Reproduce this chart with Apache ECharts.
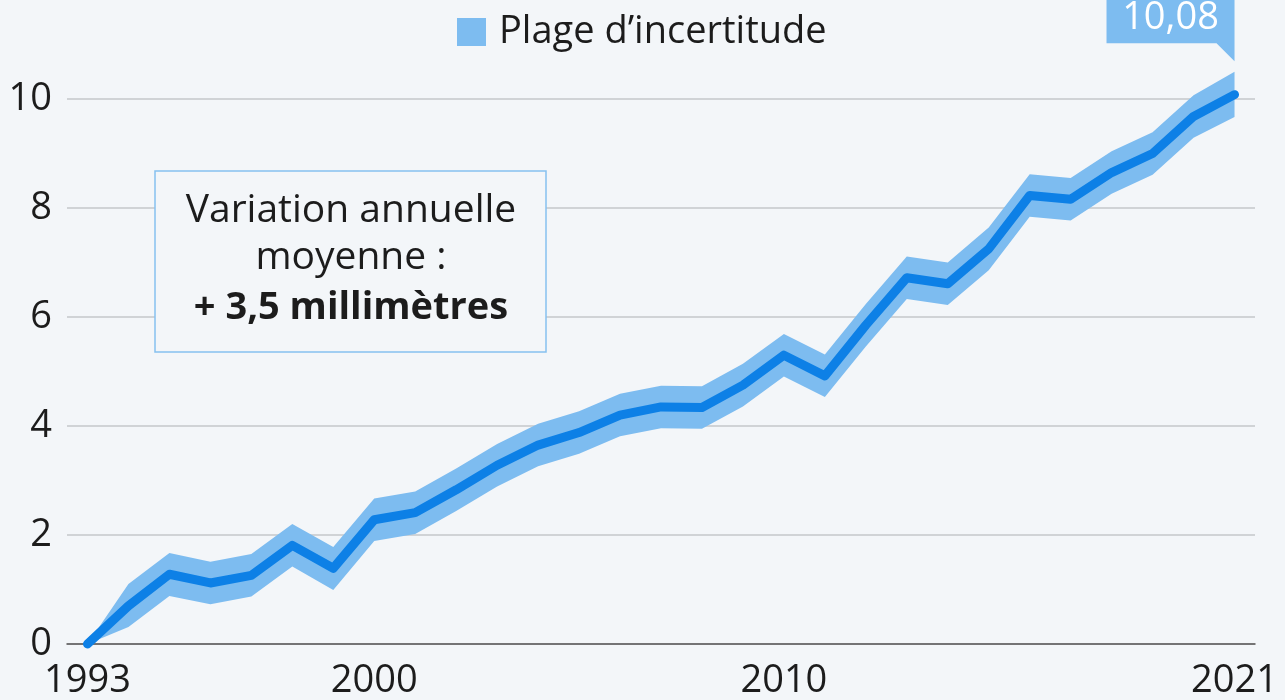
<!DOCTYPE html>
<html>
<head>
<meta charset="utf-8">
<script src="https://cdn.jsdelivr.net/npm/echarts@6/dist/echarts.min.js"></script>
<style>
  html, body { margin: 0; padding: 0; background: #f3f6f9; }
  #chart { width: 1285px; height: 700px; }
</style>
</head>
<body>
<div id="chart"></div>
<script>
// niveau moyen des mers (mm, relatif à 1993) + plage d'incertitude
var years = [1993, 1994, 1995, 1996, 1997, 1998, 1999, 2000, 2001, 2002,
  2003, 2004, 2005, 2006, 2007, 2008, 2009, 2010, 2011, 2012,
  2013, 2014, 2015, 2016, 2017, 2018, 2019, 2020, 2021];
var values = [0, 0.70, 1.28, 1.12, 1.26, 1.81, 1.39, 2.28, 2.41, 2.83,
  3.28, 3.65, 3.88, 4.20, 4.35, 4.34, 4.75, 5.30, 4.92, 5.85,
  6.72, 6.61, 7.25, 8.23, 8.16, 8.65, 9.00, 9.68, 10.08];
var lower = [0, 0.31, 0.88, 0.73, 0.87, 1.42, 0.99, 1.89, 2.02, 2.44,
  2.89, 3.26, 3.49, 3.81, 3.96, 3.95, 4.36, 4.91, 4.53, 5.46,
  6.33, 6.22, 6.86, 7.84, 7.77, 8.26, 8.61, 9.29, 9.67];
var upper = [0, 1.10, 1.67, 1.51, 1.65, 2.20, 1.78, 2.67, 2.80, 3.22,
  3.67, 4.04, 4.27, 4.59, 4.74, 4.73, 5.14, 5.69, 5.31, 6.24,
  7.11, 7.00, 7.64, 8.62, 8.55, 9.04, 9.39, 10.07, 10.50];
var xTicks = [1993, 2000, 2010, 2021];
var bandName = 'Plage d\u2019incertitude';

var lineColor = '#0d80e6';
var bandColor = '#7dbcf0';
var ink = '#1c1c1c';
var bg = '#f3f6f9';
var font = '"Open Sans", "Noto Sans", sans-serif';

var chart = echarts.init(document.getElementById('chart'), null, { renderer: 'canvas' });

var last = years.length - 1;
var bandData = years.map(function(y, i) { return [y, lower[i], upper[i]]; });
var lineData = years.map(function(y, i) {
  if (i !== last) return [y, values[i]];
  // dernier point : bulle « 10,08 »
  return {
    value: [y, values[i]],
    symbol: 'path://M0,0 L128,0 L128,71 L110,53 L0,53 Z',
    symbolSize: [128, 71],
    symbolOffset: [-64, -69],
    itemStyle: { color: bandColor },
    label: {
      show: true, position: 'inside', offset: [0, -7],
      color: '#ffffff', fontSize: 38, fontFamily: font,
      formatter: function(p) { return p.value[1].toFixed(2).replace('.', ','); }
    }
  };
});

function renderBand(params, api) {
  if (params.dataIndex !== 0) return;
  var pts = [];
  for (var i = 0; i < years.length; i++) pts.push(api.coord([years[i], upper[i]]));
  for (var j = years.length - 1; j >= 0; j--) pts.push(api.coord([years[j], lower[j]]));
  return {
    type: 'polygon',
    shape: { points: pts },
    style: { fill: bandColor }
  };
}

chart.setOption({
  animation: false,
  backgroundColor: bg,
  textStyle: { fontFamily: font },
  grid: { left: 67, right: 30, top: 99, bottom: 56, containLabel: false },
  legend: {
    data: [bandName],
    left: 452, top: 8,
    icon: 'rect',
    itemWidth: 29, itemHeight: 28,
    textStyle: { color: ink, fontSize: 38, fontFamily: font, padding: [0, 0, 0, 8] }
  },
  xAxis: {
    type: 'value', min: 1992.5, max: 2021.5,
    axisLine: { show: true, lineStyle: { color: '#555', width: 1.5 } },
    axisTick: { show: false },
    splitLine: { show: false },
    axisLabel: {
      customValues: xTicks,
      color: ink, fontSize: 38, fontFamily: font, margin: 18,
      formatter: function(v) { return String(v); }
    }
  },
  yAxis: {
    type: 'value', min: 0, max: 10, interval: 2,
    axisLine: { show: false },
    axisTick: { show: false },
    axisLabel: { color: ink, fontSize: 38, fontFamily: font, margin: 15 },
    splitLine: { lineStyle: { color: '#c5c7ca', width: 1.5 } }
  },
  series: [
    {
      name: bandName, type: 'custom', data: bandData,
      encode: { x: 0, y: [1, 2] },
      itemStyle: { color: bandColor },
      renderItem: renderBand,
      clip: false, silent: true, z: 2
    },
    {
      name: 'niveau', type: 'line', data: lineData,
      symbol: 'none', showSymbol: true, clip: false, z: 3,
      lineStyle: { color: lineColor, width: 9, cap: 'round', join: 'round' }
    }
  ],
  graphic: [
    {
      type: 'rect',
      shape: { x: 155, y: 171, width: 391, height: 181 },
      style: { fill: bg, stroke: '#86c1ef', lineWidth: 1.5 },
      z: 10
    },
    {
      type: 'text', x: 351, y: 211, z: 11,
      style: { text: 'Variation annuelle', font: '39px ' + font, fill: ink, align: 'center', verticalAlign: 'middle' }
    },
    {
      type: 'text', x: 351, y: 258, z: 11,
      style: { text: 'moyenne :', font: '39px ' + font, fill: ink, align: 'center', verticalAlign: 'middle' }
    },
    {
      type: 'text', x: 351, y: 308, z: 11,
      style: { text: '+ 3,5 millimètres', font: 'bold 38px ' + font, fill: ink, align: 'center', verticalAlign: 'middle' }
    }
  ]
});
window.addEventListener('resize', function() { chart.resize(); });
</script>
</body>
</html>
